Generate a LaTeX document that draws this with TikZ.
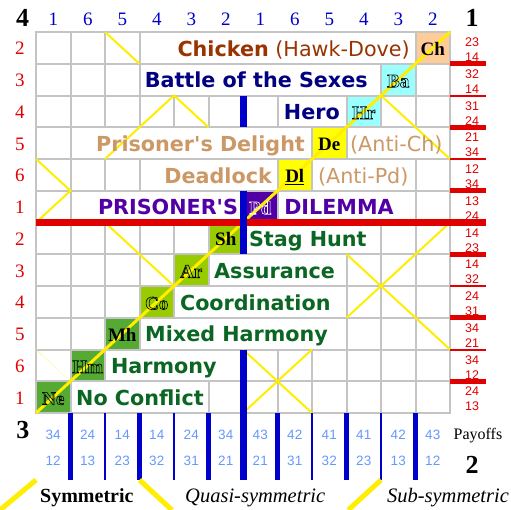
\documentclass[tikz,border=0pt]{standalone}
\usepackage{fontspec}
\setmainfont{Liberation Serif}
\setsansfont{DejaVu Sans}
\newfontfamily\numfont{Liberation Sans}
\usepackage{tikz}
\definecolor{cGrid}{HTML}{C4C4C4}
\definecolor{cBrown}{HTML}{993300}
\definecolor{cNavy}{HTML}{000080}
\definecolor{cTan}{HTML}{CC9966}
\definecolor{cPurple}{HTML}{5200A6}
\definecolor{cGreen}{HTML}{0B6623}
\definecolor{cPeach}{HTML}{FFCC99}
\definecolor{cAqua}{HTML}{99FFFF}
\definecolor{cLemon}{HTML}{FFFF00}
\definecolor{cLime}{HTML}{99CC00}
\definecolor{cLeaf}{HTML}{55AA33}
\definecolor{cRed}{HTML}{E00000}
\definecolor{cBar}{HTML}{0000CC}
\definecolor{cSky}{HTML}{6699FF}
\definecolor{cYellow}{HTML}{FFEE00}
\newcommand{\gname}[1]{{\sffamily\bfseries\fontsize{20.7bp}{24bp}\selectfont #1}}
\newcommand{\galt}[1]{{\sffamily\fontsize{20.7bp}{24bp}\selectfont #1}}
\newcommand{\abbr}[1]{{\rmfamily\bfseries\fontsize{19bp}{22bp}\selectfont #1}}
\newcommand{\outl}[1]{\special{pdf:literal direct 1 Tr 0.6 w}#1\special{pdf:literal direct 0 Tr}}
\newcommand{\rpay}[1]{{\numfont\fontsize{12.5bp}{14bp}\selectfont #1}}
\newcommand{\bpay}[1]{{\numfont\fontsize{13.5bp}{15bp}\selectfont #1}}

\begin{document}
\begin{tikzpicture}[x=34.5bp, y=-31.75bp,
    cellbox/.style={draw=cGrid, line width=2bp, fill=white},
    tagbox/.style={draw=cGrid, line width=2bp},
    lbl/.style={inner sep=0pt, anchor=base},
    lblE/.style={inner sep=0pt, anchor=base east},
    lblW/.style={inner sep=0pt, anchor=base west},
    diag/.style={draw=cYellow, line width=2bp},
    mainline/.style={draw=cYellow, line width=3bp},
    keyline/.style={draw=cYellow, line width=5bp},
    redbar/.style={draw=cRed},
    bluebar/.style={draw=cBar},
    corner/.style={lbl, font=\bfseries\fontsize{26bp}{28bp}\selectfont},
  ]
  \fill[white] (-1.0435,-1.0079) rectangle (13.7681,15.0551);
  \useasboundingbox (-1.0435,-1.0079) rectangle (13.7681,15.0551);

  \foreach \c in {0,...,11}
    \foreach \r in {0,...,11}
      \draw[cellbox] (\c,\r) rectangle ++(1,1);
  \foreach \a/\b/\r in {3/11/0, 3/10/1, 7/9/2, 1/8/3, 9/12/3, 3/7/4, 8/11/4, 1/6/5,
                        7/11/5, 6/10/6, 5/9/7, 4/9/8, 3/9/9, 2/6/10, 1/5/11}
    \draw[cellbox] (\a,\r) rectangle (\b,\r+1);
  \foreach \r/\col in {0/cPeach, 1/cAqua, 2/cAqua, 3/cLemon, 4/cLemon, 5/cPurple,
                       6/cLime, 7/cLime, 8/cLime, 9/cLeaf, 10/cLeaf, 11/cLeaf}
    \draw[tagbox, fill=\col] (11-\r,\r) rectangle ++(1,1);

  \draw[diag] (2,0) -- (3,1);
  \draw[diag] (2,4) -- (4,2) -- (5,3);
  \draw[diag] (0,4) -- (1,5) -- (0,6);
  \draw[diag] (2,6) -- (4,8);
  \draw[diag] (10,2) -- (12,4);
  \draw[diag] (9,7) -- (12,10);
  \draw[diag] (9,9) -- (12,6);
  \draw[diag] (6,10) -- (8,12);
  \draw[diag] (6,12) -- (8,10);
  \draw[draw=cYellow, line width=0.5bp, densely dotted] (0,10) -- (1,11);
  \draw[mainline] (0,12) -- (12,0);

  \node[lbl] (tagCh) at (11.5,0.74) {\abbr{Ch}};
  \node[lbl] (tagBa) at (10.5,1.74) {\abbr{\outl{Ba}}};
  \node[lbl] (tagHr) at (9.5,2.74) {\abbr{\outl{Hr}}};
  \node[lbl] (tagDe) at (8.5,3.74) {\abbr{De}};
  \node[lbl] (tagDl) at (7.5,4.74) {\abbr{\underline{Dl}}};
  \node[lbl, text=white] (tagPd) at (6.5,5.74) {\abbr{\outl{Pd}}};
  \node[lbl] (tagSh) at (5.5,6.74) {\abbr{Sh}};
  \node[lbl] (tagAr) at (4.5,7.74) {\abbr{\outl{Ar}}};
  \node[lbl] (tagCo) at (3.5,8.74) {\abbr{\outl{Co}}};
  \node[lbl] (tagMh) at (2.5,9.74) {\abbr{Mh}};
  \node[lbl] (tagHm) at (1.5,10.74) {\abbr{\outl{Hm}}};
  \node[lbl] (tagNe) at (0.5,11.74) {\abbr{\outl{Ne}}};

  \node[lblE, text=cBrown] (chicken) at (10.84,0.76) {\gname{Chicken}\galt{ (Hawk-Dove)}};
  \node[lblE, text=cNavy] (battle) at (9.62,1.76) {\gname{Battle of the Sexes}};
  \node[lblE, text=cNavy] (hero) at (8.81,2.76) {\gname{Hero}};
  \node[lblE, text=cTan] (delight) at (7.80,3.76) {\gname{Prisoner\textquotesingle s Delight}};
  \node[lblW, text=cTan] (antich) at (9.10,3.76) {\galt{(Anti-Ch)}};
  \node[lblE, text=cTan] (deadlock) at (6.84,4.76) {\gname{Deadlock}};
  \node[lblW, text=cTan] (antipd) at (8.17,4.76) {\galt{(Anti-Pd)}};
  \node[lblE, text=cPurple] (prisoner) at (5.86,5.76) {\gname{PRISONER\textquotesingle S}};
  \node[lblW, text=cPurple] (dilemma) at (7.19,5.76) {\gname{DILEMMA}};
  \node[lblW, text=cGreen] (stag) at (6.17,6.76) {\gname{Stag Hunt}};
  \node[lblW, text=cGreen] (assurance) at (5.16,7.76) {\gname{Assurance}};
  \node[lblW, text=cGreen] (coord) at (4.17,8.76) {\gname{Coordination}};
  \node[lblW, text=cGreen] (mixed) at (3.16,9.76) {\gname{Mixed Harmony}};
  \node[lblW, text=cGreen] (harmony) at (2.17,10.76) {\gname{Harmony}};
  \node[lblW, text=cGreen] (noconflict) at (1.16,11.76) {\gname{No Conflict}};

  \foreach \lab [count=\r from 0] in {2,3,4,5,6,1,2,3,4,5,6,1}
    \node[lbl, text=cRed, font=\fontsize{19bp}{22bp}\selectfont] (row\r) at (-0.464,\r+0.72) {\lab};
  \foreach \lab [count=\c from 0] in {1,6,5,4,3,2,1,6,5,4,3,2}
    \node[lbl, text=cBar, font=\fontsize{19bp}{22bp}\selectfont] (col\c) at (\c+0.5,-0.22) {\lab};
  \foreach \hi/\lo [count=\r from 0] in {23/14,32/14,31/24,21/34,12/34,13/24,
                                         14/23,14/32,24/31,34/21,34/12,24/13} {
    \node[lbl, text=cRed] (rpa\r) at (12.64,\r+0.46) {\rpay{\hi}};
    \node[lbl, text=cRed] (rpb\r) at (12.64,\r+0.93) {\rpay{\lo}};
  }
  \foreach \hi/\lo [count=\c from 0] in {34/12,24/13,14/23,14/32,24/31,34/21,
                                         43/21,42/31,41/32,41/23,42/13,43/12} {
    \node[lbl, text=cSky] (bpa\c) at (\c+0.5,12.83) {\bpay{\hi}};
    \node[lbl, text=cSky] (bpb\c) at (\c+0.5,13.64) {\bpay{\lo}};
  }

  \draw[redbar, line width=7bp] (0,6) -- (13.04,6);
  \foreach \r in {1,3,5,7,9,11}
    \draw[redbar, line width=5bp] (12,\r) -- (13.04,\r);
  \foreach \r in {2,4,8,10}
    \draw[redbar, line width=2bp] (12,\r) -- (13.04,\r);
  \foreach \c in {1,3,5,7,9,11}
    \draw[bluebar, line width=5bp] (\c,12) -- (\c,14.11);
  \foreach \c in {2,4,8,10}
    \draw[bluebar, line width=2bp] (\c,12) -- (\c,14.11);
  \draw[bluebar, line width=7bp] (6,2) -- (6,3) (6,5) -- (6,7) (6,10) -- (6,14.11);

  \node[corner] (cornerA) at (-0.39,-0.16) {4};
  \node[corner] (cornerB) at (12.64,-0.16) {1};
  \node[corner] (cornerC) at (-0.38,12.79) {3};
  \node[corner] (cornerD) at (12.64,13.89) {2};
  \node[lbl, font=\fontsize{16bp}{18bp}\selectfont] (payoffs) at (12.81,12.85) {Payoffs};

  \draw[keyline] (-1.0435,15.0551) -- (0,14.11);
  \draw[keyline] (3,14.11) -- (3.94,15.0551);
  \draw[keyline] (9.05,15.0551) -- (10,14.11);
  \node[lblW, font=\bfseries\fontsize{20bp}{22bp}\selectfont] (keySym) at (0.116,14.83) {Symmetric};
  \node[lblW, font=\itshape\fontsize{20.5bp}{22bp}\selectfont] (keyQuasi) at (4.32,14.83) {Quasi-symmetric};
  \node[lblW, font=\itshape\fontsize{20.5bp}{22bp}\selectfont] (keySub) at (10.17,14.83) {Sub-symmetric};
\end{tikzpicture}
\end{document}
